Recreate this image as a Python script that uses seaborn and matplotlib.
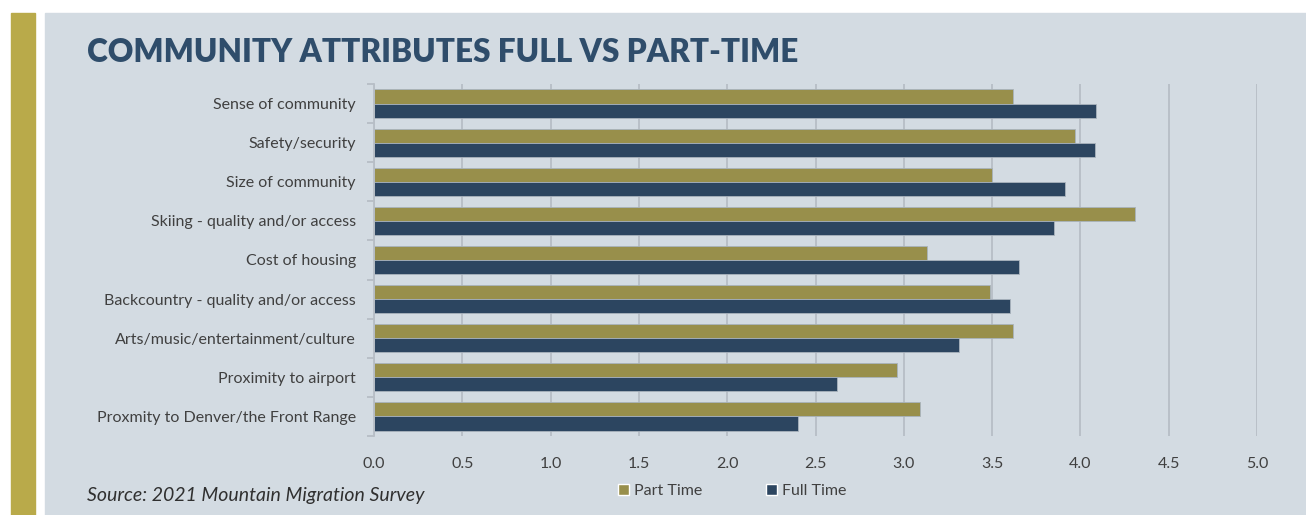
import matplotlib
matplotlib.use("Agg")
import matplotlib.pyplot as plt
from matplotlib.patches import Rectangle, Patch
from matplotlib.ticker import FixedLocator
import seaborn as sns
import pandas as pd

attributes = [
    "Sense of community",
    "Safety/security",
    "Size of community",
    "Skiing - quality and/or access",
    "Cost of housing",
    "Backcountry - quality and/or access",
    "Arts/music/entertainment/culture",
    "Proximity to airport",
    "Proxmity to Denver/the Front Range",
]
part_time = [3.62, 3.97, 3.50, 4.31, 3.13, 3.49, 3.62, 2.96, 3.09]
full_time = [4.09, 4.08, 3.91, 3.85, 3.65, 3.60, 3.31, 2.62, 2.40]
series = ["Part Time", "Full Time"]
x_ticks = [0.0, 0.5, 1.0, 1.5, 2.0, 2.5, 3.0, 3.5, 4.0, 4.5, 5.0]

GOLD = "#988f4b"
NAVY = "#2c4560"
STRIPE = "#b9aa4a"
PANEL = "#d3dbe2"
TITLE = "#2f4d6b"
TEXT = "#404040"
GRID = "#b7bec6"

df = pd.DataFrame({
    "attribute": attributes * 2,
    "score": part_time + full_time,
    "group": [series[0]] * len(attributes) + [series[1]] * len(attributes),
})

sns.set_theme(style="white")
plt.rcParams["font.family"] = ["Lato", "DejaVu Sans"]

W, H = 1306, 515
fig = plt.figure(figsize=(W / 100, H / 100), dpi=100, facecolor="white")

# decorative stripe and panel background
fig.patches.append(Rectangle((11 / W, 0), 24 / W, (H - 13) / H,
                             transform=fig.transFigure, color=STRIPE, zorder=-2))
fig.patches.append(Rectangle((45 / W, 0), (W - 45) / W, (H - 13) / H,
                             transform=fig.transFigure, color=PANEL, zorder=-2))

ax = fig.add_axes([374 / W, 1 - 436 / H, (1257 - 374) / W, (436 - 84) / H])
ax.set_zorder(2)
ax.set_facecolor("none")

sns.barplot(data=df, y="attribute", x="score", hue="group", order=attributes,
            hue_order=series, palette=[GOLD, NAVY], orient="h", width=0.72,
            gap=0, ax=ax, legend=False, saturation=1,
            edgecolor="#a9b3bd", linewidth=0.6)

ax.set_xlim(0, 5.0)
ax.set_ylim(len(attributes) - 0.5, -0.5)
ax.xaxis.set_major_locator(FixedLocator(x_ticks))
ax.set_xticklabels([f"{v:.1f}" for v in x_ticks])
ax.grid(axis="x", color=GRID, linewidth=1.3)
ax.set_axisbelow(True)
for s in ["top", "right", "bottom"]:
    ax.spines[s].set_visible(False)
ax.spines["left"].set_color(GRID)
ax.spines["left"].set_linewidth(1.3)

ax.yaxis.set_minor_locator(FixedLocator([i - 0.5 for i in range(len(attributes) + 1)]))
ax.tick_params(axis="y", which="major", length=0, pad=13, labelsize=11.5, labelcolor=TEXT)
ax.tick_params(axis="y", which="minor", left=True, length=5, width=1.3, color=GRID)
ax.tick_params(axis="x", which="major", length=0, pad=15, labelsize=11.5, labelcolor=TEXT)
ax.set_xlabel("")
ax.set_ylabel("")

fig.text(87 / W, 1 - 62 / H, "COMMUNITY ATTRIBUTES FULL VS PART-TIME",
         fontsize=22.7, fontweight="heavy", color=TITLE, ha="left", va="baseline")
fig.text(87 / W, 1 - 501 / H, "Source: 2021 Mountain Migration Survey",
         fontsize=14, fontstyle="italic", color="#303030", ha="left", va="baseline")

handles = [Patch(facecolor=GOLD), Patch(facecolor=NAVY)]
fig.legend(handles, series, loc="center left", bbox_to_anchor=(604 / W, 1 - 491 / H),
           ncol=2, frameon=False, handlelength=0.65, handleheight=0.65,
           handletextpad=0.3, columnspacing=4.05, fontsize=11.5, labelcolor=TEXT)

fig.savefig("out.png", dpi=100, facecolor="white")
